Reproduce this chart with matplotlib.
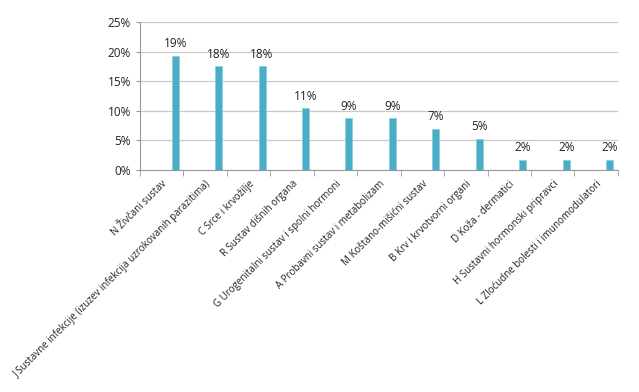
import numpy as np
import matplotlib
matplotlib.use("Agg")
import matplotlib.pyplot as plt

plt.rcParams["font.family"] = ["Open Sans", "DejaVu Sans"]

categories = [
    "N Živčani sustav",
    "J Sustavne infekcije (izuzev infekcija uzrokovanih parazitima)",
    "C Srce i krvožilje",
    "R Sustav dišnih organa",
    "G Urogenitalni sustav i spolni hormoni",
    "A Probavni sustav i metabolizam",
    "M Koštano-mišićni sustav",
    "B Krv i krvotvorni organi",
    "D Koža - dermatici",
    "H Sustavni hormonski pripravci",
    "L Zloćudne bolesti i imunomodulatori",
]
shares = [19.3, 17.5, 17.5, 10.5, 8.8, 8.8, 7.0, 5.3, 1.75, 1.75, 1.75]
labels = ["19%", "18%", "18%", "11%", "9%", "9%", "7%", "5%", "2%", "2%", "2%"]
yticks = [0, 5, 10, 15, 20, 25]

fig = plt.figure(figsize=(6.39, 3.92), dpi=100)
ax = fig.add_axes([0.219, 0.566, 0.748, 0.378])

x = np.arange(len(categories))
off = 0.31
ax.bar(x + off, shares, width=0.16, color="#4BACC6", edgecolor="#7fd0e3", lw=0.5, zorder=3)
for xi, v, t in zip(x, shares, labels):
    ax.text(xi + off, v + 0.9, t, ha="center", va="bottom", fontsize=8.5, color="#222")

ax.set_xlim(-0.5, len(categories) - 0.5)
ax.set_ylim(0, 25)
ax.set_yticks(yticks)
ax.set_yticklabels([f"{t}%" for t in yticks], fontsize=8.5, color="#222")
ax.yaxis.grid(True, color="#c8c8c8", lw=0.9, zorder=0)
ax.tick_params(axis="y", length=3, color="#999")

ax.set_xticks(x)
ax.set_xticklabels(categories, rotation=45, ha="right", rotation_mode="anchor",
                   fontsize=7.0, color="#222")
ax.tick_params(axis="x", length=0, pad=6)
ax.set_xticks(np.arange(len(categories) + 1) - 0.5, minor=True)
ax.tick_params(axis="x", which="minor", length=4, color="#999")

for s in ["top", "right"]:
    ax.spines[s].set_visible(False)
for s in ["left", "bottom"]:
    ax.spines[s].set_color("#999")

fig.savefig("out.png", dpi=100)
